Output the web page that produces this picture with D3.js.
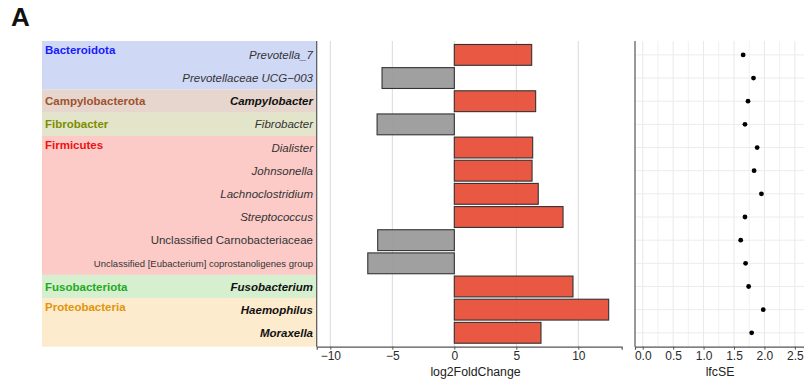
<!DOCTYPE html>
<html>
<head>
<meta charset="utf-8">
<script src="https://cdn.jsdelivr.net/npm/d3@7"></script>
<style>
  html, body { margin: 0; padding: 0; background: #fff; }
  svg { display: block; font-family: "Liberation Sans", Arial, Helvetica, sans-serif; }
</style>
</head>
<body>
<svg id="chart" width="804" height="385"></svg>
<script>
// Genera, top to bottom
const genera = [
  "Prevotella_7", "Prevotellaceae UCG\u2212003", "Campylobacter", "Fibrobacter",
  "Dialister", "Johnsonella", "Lachnoclostridium", "Streptococcus",
  "Unclassified Carnobacteriaceae", "Unclassified [Eubacterium] coprostanoligenes group",
  "Fusobacterium", "Haemophilus", "Moraxella"
];
const phylumOfGenus = [
  "Bacteroidota", "Bacteroidota", "Campylobacterota", "Fibrobacter",
  "Firmicutes", "Firmicutes", "Firmicutes", "Firmicutes",
  "Firmicutes", "Firmicutes",
  "Fusobacteriota", "Proteobacteria", "Proteobacteria"
];
const log2FoldChange = [6.24, -5.83, 6.56, -6.23, 6.32, 6.27, 6.77, 8.77, -6.18, -6.98, 9.57, 12.45, 6.99];
const lfcSE = [1.65, 1.82, 1.73, 1.68, 1.88, 1.83, 1.95, 1.68, 1.61, 1.69, 1.74, 1.98, 1.79];
const boldGenera = ["Campylobacter", "Fusobacterium", "Haemophilus", "Moraxella"];
const uprightGenera = ["Unclassified Carnobacteriaceae", "Unclassified [Eubacterium] coprostanoligenes group"];

const phyla = ["Bacteroidota", "Campylobacterota", "Fibrobacter", "Firmicutes", "Fusobacteriota", "Proteobacteria"];
const phylumFill = ["#cfd9f6", "#e6d6cd", "#e3e5cb", "#fccbc8", "#d6efcf", "#fdebcd"];
const phylumText = ["#1a1aff", "#a0522d", "#7f8c00", "#ee1111", "#22aa22", "#e0950a"];

const lfcTicks = [-10, -5, 0, 5, 10];
const seTicks = [0, 0.5, 1, 1.5, 2, 2.5];
const seMinor = [0.25, 0.75, 1.25, 1.75, 2.25];

const svg = d3.select("#chart");
const yTop = 41, yBottom = 346.7;

const y = d3.scalePoint().domain(genera).range([yTop, yBottom]).padding(0.6);
const step = y.step();

const xL = d3.scaleLinear().domain([-11.1, 13.5]).range([316.7, 621.7]);
const xR = d3.scaleLinear().domain([-0.127, 2.65]).range([635, 804]);

// panel label
svg.append("text").attr("x", 11).attr("y", 26)
  .attr("font-size", 26).attr("font-weight", "bold").attr("fill", "#111").text("A");

// ---- taxonomy strips ----
const stripX0 = 42, stripX1 = 316.7;
const leftG = svg.append("g");
phyla.forEach((p, i) => {
  const idx = genera.map((g, k) => k).filter(k => phylumOfGenus[k] === p);
  const first = idx[0], last = idx[idx.length - 1];
  const y0 = first === 0 ? yTop : y(genera[first]) - step / 2;
  const y1 = last === genera.length - 1 ? yBottom : y(genera[last]) + step / 2;
  leftG.append("rect").attr("x", stripX0).attr("y", y0)
    .attr("width", stripX1 - stripX0).attr("height", y1 - y0)
    .attr("fill", phylumFill[i]);
  const ly = idx.length === 1 ? y(genera[first]) : y0 + 9;
  leftG.append("text").attr("x", 45).attr("y", ly).attr("dy", "0.35em")
    .attr("font-size", 11.5).attr("font-weight", "bold")
    .attr("fill", phylumText[i]).text(p);
});
genera.forEach((g, k) => {
  const bold = boldGenera.includes(g);
  const upright = uprightGenera.includes(g);
  leftG.append("text").attr("x", 313).attr("y", y(g)).attr("dy", "0.35em")
    .attr("text-anchor", "end")
    .attr("font-size", g.length > 40 ? 9.5 : 11.5)
    .attr("font-style", upright ? "normal" : "italic")
    .attr("font-weight", bold ? "bold" : "normal")
    .attr("fill", bold ? "#111" : "#333").text(g);
});

// ---- log2FoldChange panel ----
const mid = svg.append("g");
mid.selectAll("line.grid").data(lfcTicks).join("line")
  .attr("x1", d => xL(d)).attr("x2", d => xL(d))
  .attr("y1", yTop).attr("y2", yBottom)
  .attr("stroke", "#dadada").attr("stroke-width", 1);
const bh = step * 0.9;
mid.selectAll("rect.bar").data(genera).join("rect")
  .attr("x", (g, k) => xL(Math.min(0, log2FoldChange[k])))
  .attr("width", (g, k) => Math.abs(xL(log2FoldChange[k]) - xL(0)))
  .attr("y", g => y(g) - bh / 2).attr("height", bh)
  .attr("fill", (g, k) => log2FoldChange[k] > 0 ? "#e64b35" : "#999999")
  .attr("fill-opacity", 0.93)
  .attr("stroke", "#333").attr("stroke-width", 1.1);

const axL = mid.append("g").attr("transform", `translate(0,${yBottom})`)
  .call(d3.axisBottom(xL).tickValues(lfcTicks).tickSize(3).tickPadding(2)
    .tickFormat(d => d < 0 ? "\u2212" + Math.abs(d) : d));
axL.select(".domain").attr("stroke", "#555").attr("stroke-width", 1.2);
axL.selectAll(".tick line").attr("stroke", "#555");
axL.selectAll(".tick text").attr("font-size", 12).attr("fill", "#2a2a2a")
  .attr("font-family", "Liberation Sans, Arial, sans-serif");
mid.append("line").attr("x1", xL.range()[0]).attr("x2", xL.range()[0])
  .attr("y1", yTop).attr("y2", yBottom).attr("stroke", "#555").attr("stroke-width", 1.2);
mid.append("text").attr("x", 475.5).attr("y", 376).attr("text-anchor", "middle")
  .attr("font-size", 12.3).attr("fill", "#222").text("log2FoldChange");

// ---- lfcSE panel ----
const rightG = svg.append("g");
rightG.selectAll("line.minor").data(seMinor).join("line")
  .attr("x1", d => xR(d)).attr("x2", d => xR(d))
  .attr("y1", yTop).attr("y2", yBottom).attr("stroke", "#f1f1f1");
rightG.selectAll("line.major").data(seTicks).join("line")
  .attr("x1", d => xR(d)).attr("x2", d => xR(d))
  .attr("y1", yTop).attr("y2", yBottom).attr("stroke", "#e8e8e8");
rightG.selectAll("line.hgrid").data(genera).join("line")
  .attr("x1", xR.range()[0]).attr("x2", xR.range()[1])
  .attr("y1", g => y(g)).attr("y2", g => y(g)).attr("stroke", "#ececec");
rightG.selectAll("circle").data(genera).join("circle")
  .attr("cx", (g, k) => xR(lfcSE[k])).attr("cy", g => y(g))
  .attr("r", 2.4).attr("fill", "#000");
const axR = rightG.append("g").attr("transform", `translate(0,${yBottom})`)
  .call(d3.axisBottom(xR).tickValues(seTicks).tickSize(3).tickPadding(2)
    .tickFormat(d3.format(".1f")));
axR.select(".domain").attr("stroke", "#555").attr("stroke-width", 1.2);
axR.selectAll(".tick line").attr("stroke", "#555");
axR.selectAll(".tick text").attr("font-size", 12).attr("fill", "#2a2a2a")
  .attr("font-family", "Liberation Sans, Arial, sans-serif");
rightG.append("line").attr("x1", xR.range()[0]).attr("x2", xR.range()[0])
  .attr("y1", yTop).attr("y2", yBottom).attr("stroke", "#555").attr("stroke-width", 1.2);
rightG.append("text").attr("x", 720).attr("y", 376).attr("text-anchor", "middle")
  .attr("font-size", 12.3).attr("fill", "#222").text("lfcSE");
</script>
</body>
</html>
